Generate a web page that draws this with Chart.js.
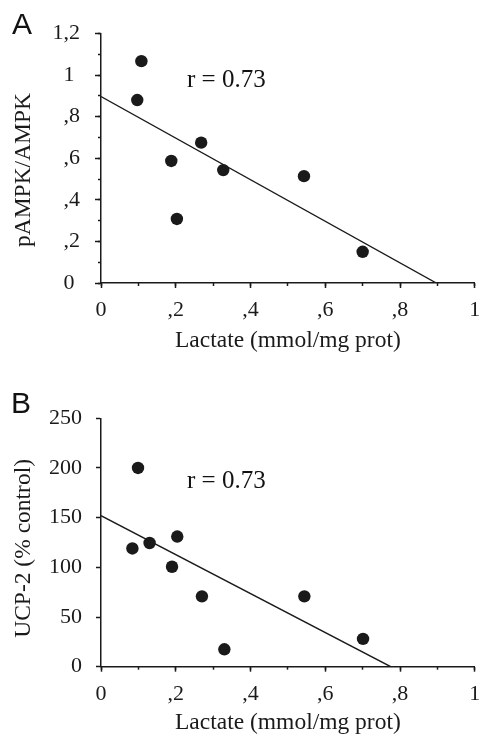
<!DOCTYPE html>
<html><head><meta charset="utf-8">
<script src="https://cdn.jsdelivr.net/npm/chart.js@4.4.1/dist/chart.umd.min.js"></script>
<style>
html,body{margin:0;padding:0;background:#fff;}
body{width:481px;height:734px;overflow:hidden;position:relative;}
canvas{position:absolute;left:0;}
.panel{position:absolute;font-family:'Liberation Sans',Arial,sans-serif;font-size:30px;line-height:1;color:#111;}
.r{position:absolute;font-family:'Liberation Serif','Times New Roman',serif;font-size:25px;line-height:1;color:#111;white-space:nowrap;}
</style></head><body>
<canvas id="cA" width="481" height="367" style="top:0"></canvas>
<canvas id="cB" width="481" height="380" style="top:367px"></canvas>
<div class="panel" style="left:12px;top:9px">A</div>
<div class="panel" style="left:11px;top:388px">B</div>
<div class="r" style="left:187px;top:66px">r = 0.73</div>
<div class="r" style="left:187px;top:467px">r = 0.73</div>
<script>
// ---- data ----
const lactateA = [0.108, 0.097, 0.188, 0.203, 0.268, 0.327, 0.543, 0.700];
const pampkA   = [1.067, 0.880, 0.587, 0.308, 0.675, 0.543, 0.514, 0.150];
const fitAx = [0, 0.897];
const fitAy = [0.897, 0];

const lactateB = [0.099, 0.084, 0.130, 0.204, 0.190, 0.270, 0.330, 0.544, 0.701];
const ucpB     = [200, 119, 124.5, 131, 100.6, 70.8, 17.5, 70.8, 28];
const fitBx = [0, 0.775];
const fitBy = [152, 0];

const xTickLabels  = ['0', ',2', ',4', ',6', ',8', '1'];
const yTickLabelsA = ['0', ',2', ',4', ',6', ',8', '1', '1,2'];
const yTickLabelsB = ['0', '50', '100', '150', '200', '250'];

const xTitle  = 'Lactate (mmol/mg prot)';
const yTitleA = 'pAMPK/AMPK';
const yTitleB = 'UCP-2 (% control)';

// ---- styling ----
const SERIF = "'Liberation Serif','Times New Roman',serif";
const INK = '#1a1a1a';
Chart.defaults.font.family = SERIF;
Chart.defaults.color = INK;

function pts(xs, ys){ return xs.map((x,i)=>({x:x, y:ys[i]})); }
function fixWidth(w){ return s => { s.width = w; s.paddingTop = 0; s.paddingBottom = 0; }; }
function fixHeight(h){ return s => { s.height = h; s.paddingLeft = 0; s.paddingRight = 0; }; }

function axisMajor(o){
  return {
    type:'linear', position:o.pos, min:o.min, max:o.max, weight:1,
    border:{display:true, color:INK, width:1.5},
    grid:{drawOnChartArea:false, drawTicks:true, tickLength:o.tl, tickColor:INK, tickWidth:1.5},
    ticks:{stepSize:o.step, autoSkip:false, maxRotation:0, minRotation:0, padding:o.pad,
      font:{size:22, family:SERIF}, color:INK,
      callback:(v)=>{ const l = o.labels[Math.round((v - o.min)/o.step)]; return (l !== undefined) ? (o.fmt ? o.fmt(l) : l) : ''; }},
    title:{display:true, text:o.title, font:{size:23.5, family:SERIF}, color:INK, padding:o.tpad},
    afterFit:o.fit
  };
}
function axisMinor(o){
  return {
    type:'linear', position:o.pos, min:o.min, max:o.max, weight:0,
    border:{display:false},
    grid:{drawOnChartArea:false, drawTicks:true, tickLength:o.tl, tickColor:INK, tickWidth:1.5},
    ticks:{display:false, stepSize:o.step, autoSkip:false},
    afterFit:o.fit
  };
}
const decAlign = l => l.indexOf(',') >= 0 ? l : l + ' ';

function makeChart(id, cfg){
  return new Chart(document.getElementById(id), {
    type:'scatter',
    data:{datasets:[
      {data:pts(cfg.xs, cfg.ys), backgroundColor:INK, borderColor:INK, borderWidth:0, pointRadius:6.2, pointHoverRadius:6.2},
      {data:pts(cfg.fx, cfg.fy), showLine:true, borderColor:INK, borderWidth:1.4, pointRadius:0, fill:false}
    ]},
    options:{
      responsive:false, animation:false, devicePixelRatio:1, events:[],
      layout:{padding:{top:cfg.top, right:4, bottom:0, left:0}},
      plugins:{legend:{display:false}, tooltip:{enabled:false}},
      scales:{
        x: axisMajor({pos:'bottom', min:0, max:1, step:0.2, tl:5, pad:9, labels:xTickLabels,
                      title:xTitle, tpad:{top:0, bottom:cfg.xtpad}, fit:fixHeight(cfg.xh)}),
        xm: axisMinor({pos:'bottom', min:0, max:1, step:0.1, tl:3, fit:fixHeight(0)}),
        y: axisMajor({pos:'left', min:cfg.ymin, max:cfg.ymax, step:cfg.ystep, tl:cfg.ytl, pad:cfg.ypad,
                      labels:cfg.ylabels, fmt:cfg.yfmt, title:cfg.ytitle, tpad:{top:10, bottom:0}, fit:fixWidth(101)}),
        ym: cfg.yminor ? axisMinor({pos:'left', min:cfg.ymin, max:cfg.ymax, step:cfg.yminor, tl:3, fit:fixWidth(0)})
                       : {display:false}
      }
    }
  });
}

makeChart('cA', {xs:lactateA, ys:pampkA, fx:fitAx, fy:fitAy, top:33.5, xh:84, xtpad:12,
  ymin:0, ymax:1.2, ystep:0.2, yminor:0.1, ytl:6, ypad:15, ylabels:yTickLabelsA, yfmt:decAlign,
  ytitle:yTitleA + '    '});
makeChart('cB', {xs:lactateB, ys:ucpB, fx:fitBx, fy:fitBy, top:51.3, xh:80.3, xtpad:10,
  ymin:0, ymax:250, ystep:50, yminor:0, ytl:5, ypad:14, ylabels:yTickLabelsB, yfmt:null,
  ytitle:yTitleB + '  '});
</script>
</body></html>
